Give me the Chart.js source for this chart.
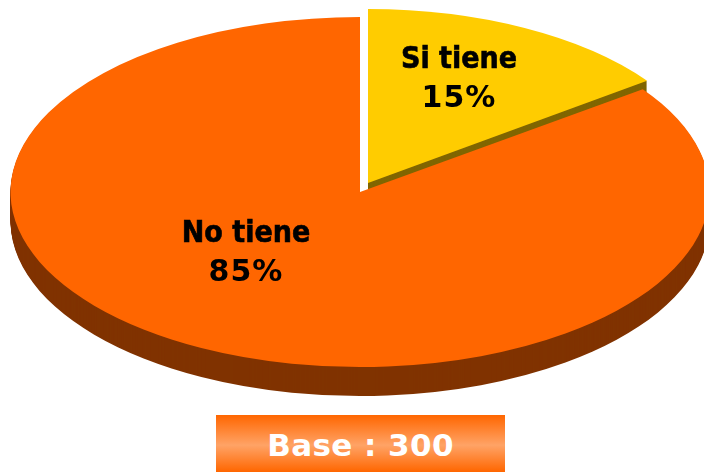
<!DOCTYPE html>
<html><head><meta charset="utf-8">
<style>
html,body{margin:0;padding:0;background:#fff;overflow:hidden}
#wrap{position:relative;width:704px;height:472px}
#base{position:absolute;left:216px;top:415px;width:289px;height:57px;text-align:center;color:#fff;
font:bold 31px "DejaVu Sans";line-height:61px;letter-spacing:0.4px;
background:linear-gradient(180deg,#ff6600 0%,#ffa366 53%,#ff6600 100%)}
</style></head><body>
<div id="wrap"><canvas id="c" width="704" height="472"></canvas><div id="base">Base : 300</div></div>
<script src="https://cdn.jsdelivr.net/npm/chart.js@4"></script>
<script>
const categories = ['Si tiene', 'No tiene'];
const values = [15, 85];
const sliceColors = ['#ffcc00', '#ff6600'];
const sideColors = ['#806600', '#803300'];
const apex = [[368, 183], [360, 192]];
const radii = [[345, 174], [349.5, 175]];
const depth = [12, 29];
const labelPos = [[459, 68, 107], [246, 242, 281]];

const pie3d = {
  id: 'pie3d',
  beforeDatasetDraw(chart) {
    const ctx = chart.ctx;
    const arcs = chart.getDatasetMeta(0).data;
    const drawAt = (i, dy, fill) => {
      const a = arcs[i];
      const clone = Object.create(a);
      clone.outerRadius = radii[i][0];
      clone.options = {offset: 0, spacing: 0, borderWidth: 0, borderRadius: 0, backgroundColor: fill, circular: true};
      ctx.save();
      ctx.translate(apex[i][0], apex[i][1] + dy);
      ctx.scale(1, radii[i][1] / radii[i][0]);
      ctx.translate(-a.x, -a.y);
      clone.draw(ctx);
      ctx.restore();
    };
    [1, 0].forEach(i => {
      for (let d = depth[i]; d > 0; d--) drawAt(i, d, sideColors[i]);
    });
    [1, 0].forEach(i => drawAt(i, 0, sliceColors[i]));
    return false;
  },
  afterDatasetsDraw(chart) {
    const ctx = chart.ctx;
    ctx.save();
    ctx.fillStyle = '#000';
    ctx.strokeStyle = '#000';
    ctx.lineWidth = 0.6;
    ctx.textAlign = 'center';
    ctx.textBaseline = 'alphabetic';
    categories.forEach((c, i) => {
      ctx.font = 'bold 30px "DejaVu Sans Condensed"';
      ctx.letterSpacing = '0px';
      ctx.fillText(c, labelPos[i][0], labelPos[i][1]);
      ctx.strokeText(c, labelPos[i][0], labelPos[i][1]);
      ctx.font = 'bold 30px "DejaVu Sans"';
      ctx.letterSpacing = '1px';
      ctx.fillText(values[i] + '%', labelPos[i][0], labelPos[i][2]);
    });
    ctx.restore();
  }
};

new Chart(document.getElementById('c'), {
  type: 'pie',
  data: {labels: categories, datasets: [{data: values, backgroundColor: sliceColors, borderWidth: 0}]},
  options: {
    responsive: false, animation: false, radius: 349,
    plugins: {legend: {display: false}, tooltip: {enabled: false}}
  },
  plugins: [pie3d]
});
</script></body></html>
